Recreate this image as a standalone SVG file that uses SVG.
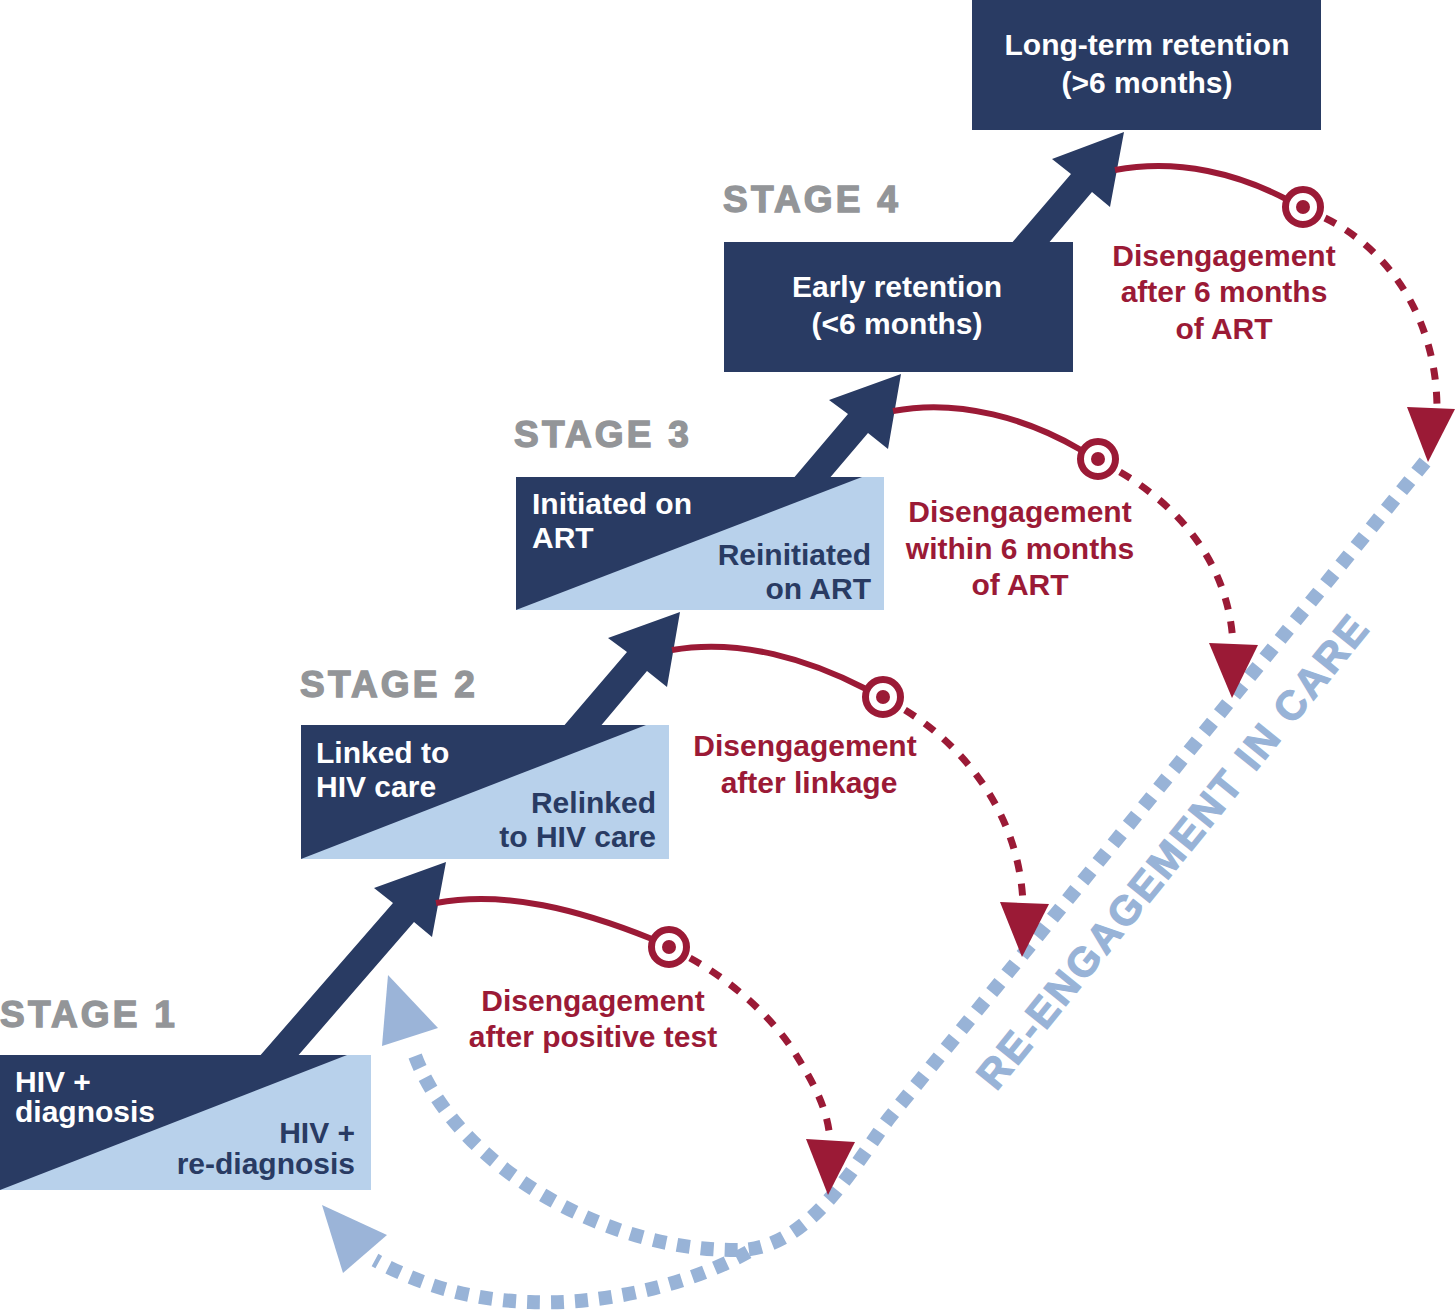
<svg xmlns="http://www.w3.org/2000/svg" width="1456" height="1311" viewBox="0 0 1456 1311">
<style>
.navy{fill:#293b63}
.light{fill:#b8d1eb}
.stage{font-family:"Liberation Sans",Arial,sans-serif;font-weight:bold;font-size:37px;fill:#939598;stroke:#939598;stroke-width:1.4px;letter-spacing:3.2px}
.t{font-family:"Liberation Sans",Arial,sans-serif;font-weight:bold;font-size:30px}
.w{fill:#ffffff}
.n{fill:#293b63;text-anchor:end}
.r{fill:#9b1a36;text-anchor:middle}
.m{text-anchor:middle}
.solid{fill:none;stroke:#9b1a36;stroke-width:6}
.rdash{fill:none;stroke:#9b1a36;stroke-width:7;stroke-dasharray:12 12}
.bdash{fill:none;stroke:#98b3d7;stroke-width:14;stroke-dasharray:13 11}
.rhead{fill:#9b1a36}
.bhead{fill:#9bb4d8}
.ring{fill:#ffffff;stroke:#9b1a36;stroke-width:7}
.dot{fill:#9b1a36}
.re{font-family:"Liberation Sans",Arial,sans-serif;font-weight:bold;font-size:41px;fill:#98b3d7;stroke:#98b3d7;stroke-width:1.2px;letter-spacing:2.5px;text-anchor:middle}
</style>

<g id="reengagement">
<path class="bdash" d="M1425,462 L890,1117 C857,1160 812,1248 740,1250 C600,1252 450,1160 413,1050"/>
<path class="bdash" d="M748,1252 C680,1290 590,1305 530,1302 C470,1300 420,1285 375,1260"/>
<polygon class="bhead" points="388,975 438,1028 382,1046"/>
<polygon class="bhead" points="322,1205 387,1235 343,1273"/>
<text class="re" transform="translate(1184,860) rotate(-51)">RE-ENGAGEMENT IN CARE</text>
</g>

<g id="arrows">
<polygon class="navy" points="258,1058 393,903 374,888 446,862 432,937 414,922 296,1058"/>
<polygon class="navy" points="562,728 627,652 608,638 680,612 667,687 647,671 599,728"/>
<polygon class="navy" points="792,480 848,414 829,400 901,374 888,449 868,433 828,480"/>
<polygon class="navy" points="1010,245 1071,174 1052,159 1124,132 1110,207 1092,192 1047,245"/>
</g>

<g id="connectors">
<path class="solid" d="M436,903 C505,890 580,910 652,939"/>
<path class="solid" d="M672,650 C740,638 810,660 866,689"/>
<path class="solid" d="M893,411 C960,398 1030,420 1081,450"/>
<path class="solid" d="M1115,170 C1180,158 1240,175 1286,199"/>
<path class="rdash" d="M690,958 C730,980 770,1015 793,1050 C815,1085 828,1110 830,1140"/>
<path class="rdash" d="M905,710 C970,750 1020,820 1023,904"/>
<path class="rdash" d="M1120,472 C1185,510 1230,570 1233,645"/>
<path class="rdash" d="M1325,218 C1390,250 1437,320 1437,409"/>
<polygon class="rhead" points="806,1139 855,1142 828,1195"/>
<polygon class="rhead" points="1000,902 1049,904 1022,957"/>
<polygon class="rhead" points="1209,643 1258,645 1232,698"/>
<polygon class="rhead" points="1407,407 1455,409 1428,462"/>
</g>

<g id="target1"><circle class="ring" cx="669" cy="947" r="17.5"/><circle class="dot" cx="669" cy="947" r="7"/></g>
<g id="target2"><circle class="ring" cx="883" cy="697" r="17.5"/><circle class="dot" cx="883" cy="697" r="7"/></g>
<g id="target3"><circle class="ring" cx="1098" cy="459" r="17.5"/><circle class="dot" cx="1098" cy="459" r="7"/></g>
<g id="target4"><circle class="ring" cx="1303" cy="207" r="17.5"/><circle class="dot" cx="1303" cy="207" r="7"/></g>

<g id="stage1">
<text class="stage" x="0" y="1027">STAGE 1</text>
<rect class="light" x="0" y="1055" width="371" height="135"/>
<polygon class="navy" points="0,1055 347,1055 0,1190"/>
<text class="t w" x="15" y="1092">HIV +</text>
<text class="t w" x="15" y="1122">diagnosis</text>
<text class="t n" x="355" y="1143">HIV +</text>
<text class="t n" x="355" y="1174">re-diagnosis</text>
</g>

<g id="stage2">
<text class="stage" x="300" y="697">STAGE 2</text>
<rect class="light" x="301" y="725" width="368" height="134"/>
<polygon class="navy" points="301,725 646,725 301,859"/>
<text class="t w" x="316" y="763">Linked to</text>
<text class="t w" x="316" y="797">HIV care</text>
<text class="t n" x="656" y="813">Relinked</text>
<text class="t n" x="656" y="847">to HIV care</text>
</g>

<g id="stage3">
<text class="stage" x="514" y="447">STAGE 3</text>
<rect class="light" x="516" y="477" width="368" height="133"/>
<polygon class="navy" points="516,477 862,477 516,610"/>
<text class="t w" x="532" y="514">Initiated on</text>
<text class="t w" x="532" y="548">ART</text>
<text class="t n" x="871" y="565">Reinitiated</text>
<text class="t n" x="871" y="599">on ART</text>
</g>

<g id="stage4">
<text class="stage" x="723" y="212">STAGE 4</text>
<rect class="navy" x="724" y="242" width="349" height="130"/>
<text class="t w m" x="897" y="297">Early retention</text>
<text class="t w m" x="897" y="334">(&lt;6 months)</text>
</g>

<g id="longterm">
<rect class="navy" x="972" y="0" width="349" height="130"/>
<text class="t w m" x="1147" y="55">Long-term retention</text>
<text class="t w m" x="1147" y="93">(&gt;6 months)</text>
</g>

<g id="labels">
<text class="t r" x="593" y="1011">Disengagement</text>
<text class="t r" x="593" y="1047">after positive test</text>
<text class="t r" x="805" y="756">Disengagement</text>
<text class="t r" x="809" y="793">after linkage</text>
<text class="t r" x="1020" y="522">Disengagement</text>
<text class="t r" x="1020" y="559">within 6 months</text>
<text class="t r" x="1020" y="595">of ART</text>
<text class="t r" x="1224" y="266">Disengagement</text>
<text class="t r" x="1224" y="302">after 6 months</text>
<text class="t r" x="1224" y="339">of ART</text>
</g>
</svg>
